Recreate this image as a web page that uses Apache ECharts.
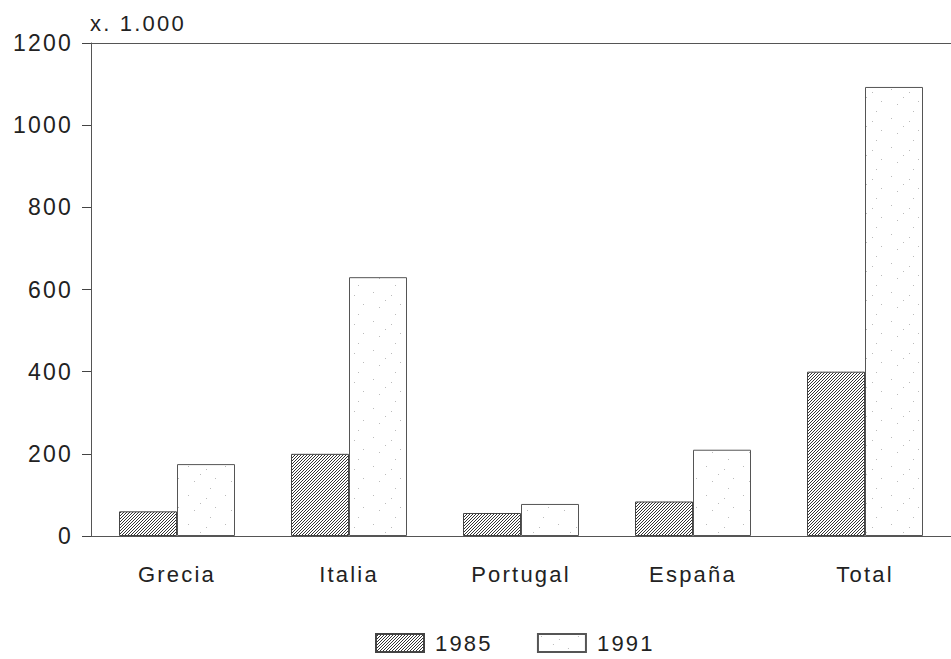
<!DOCTYPE html>
<html>
<head>
<meta charset="utf-8">
<script src="https://cdn.jsdelivr.net/npm/echarts@6/dist/echarts.min.js"></script>
<style>
  html, body { margin: 0; padding: 0; background: #fff; }
  #chart { width: 951px; height: 659px; letter-spacing: 2.2px; }
</style>
</head>
<body>
<div id="chart"></div>
<script>
const categories = ['Grecia', 'Italia', 'Portugal', 'España', 'Total']
const values1985 = [60, 200, 56, 84, 400]
const values1991 = [175, 630, 78, 210, 1093]
const seriesNames = ['1985', '1991']
const unitLabel = 'x. 1.000'

// diagonal hatch for 1985
function hatch() {
  let c = document.createElement('canvas')
  c.width = 3
  c.height = 3
  let ctx = c.getContext('2d')
  ctx.fillStyle = '#fff'
  ctx.fillRect(0, 0, 3, 3)
  ctx.fillStyle = '#333'
  // one pixel per row, stepping up to the right
  ctx.fillRect(0, 2, 1, 1)
  ctx.fillRect(1, 1, 1, 1)
  ctx.fillRect(2, 0, 1, 1)
  return c
}

// sparse dots for 1991
function dots() {
  let c = document.createElement('canvas')
  c.width = 37
  c.height = 29
  let ctx = c.getContext('2d')
  ctx.fillStyle = '#fff'
  ctx.fillRect(0, 0, 37, 29)
  ctx.fillStyle = '#bbb'
  ;[[3, 2], [21, 5], [30, 14], [9, 17], [25, 24], [15, 10]].forEach(p => ctx.fillRect(p[0], p[1], 1, 1))
  return c
}

const hatchImg = hatch()
const dotImg = dots()
const font = 'Liberation Sans, Arial, sans-serif'

const dom = echarts.init(document.getElementById('chart'), null, { renderer: 'svg' })
const option = {
  animation: false,
  backgroundColor: '#fff',
  title: {
    text: unitLabel,
    left: 85,
    top: 7,
    textStyle: { fontFamily: font, fontSize: 22, fontWeight: 'normal', color: '#222' }
  },
  legend: {
    left: 370,
    top: 627,
    icon: 'rect',
    itemWidth: 48,
    itemHeight: 18,
    itemGap: 53,
    data: seriesNames,
    textStyle: { fontFamily: font, fontSize: 22, color: '#222', padding: [0, 0, 0, 6] }
  },
  grid: { left: 91, right: 0, top: 43, bottom: 123 },
  xAxis: [
    {
      type: 'category',
      data: categories,
      axisLine: { lineStyle: { color: '#555', width: 1 } },
      axisTick: { alignWithLabel: true, length: 9, lineStyle: { color: '#777' } },
      axisLabel: { margin: 27, fontFamily: font, fontSize: 22, color: '#222' }
    },
    {
      type: 'value',
      position: 'top',
      axisLine: { show: true, onZero: false, lineStyle: { color: '#555', width: 1 } },
      axisTick: { show: false },
      axisLabel: { show: false },
      splitLine: { show: false }
    }
  ],
  yAxis: {
    type: 'value',
    min: 0,
    max: 1200,
    interval: 200,
    axisLine: { show: true, lineStyle: { color: '#555', width: 1 } },
    axisTick: { show: true, length: 9, lineStyle: { color: '#444' } },
    splitLine: { show: false },
    axisLabel: {
      margin: 18,
      fontFamily: font,
      fontSize: 23,
      color: '#222',
      formatter: v => String(v)
    }
  },
  series: [
    {
      name: seriesNames[0],
      type: 'bar',
      barWidth: 58,
      barGap: 0,
      data: values1985,
      itemStyle: {
        color: { image: hatchImg, repeat: 'repeat', imageWidth: 3, imageHeight: 3 },
        borderColor: '#444',
        borderWidth: 1
      }
    },
    {
      name: seriesNames[1],
      type: 'bar',
      barWidth: 58,
      barGap: 0,
      data: values1991,
      itemStyle: {
        color: { image: dotImg, repeat: 'repeat', imageWidth: 37, imageHeight: 29 },
        borderColor: '#555',
        borderWidth: 1
      }
    }
  ]
}
dom.setOption(option)
</script>
</body>
</html>
